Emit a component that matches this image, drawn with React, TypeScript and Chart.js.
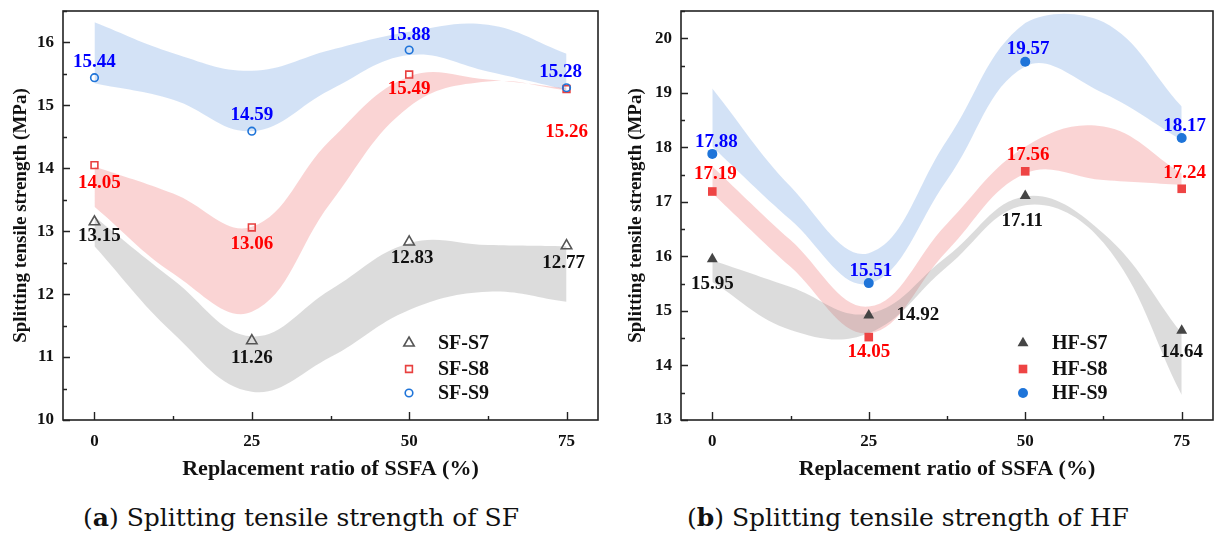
import React, { useEffect, useRef } from "react";
import { Chart, registerables } from "chart.js";

Chart.register(...registerables);

// ---------- data ----------
const X_CATEGORIES = [0, 25, 50, 75];
const BAND_X = [0, 12.5, 25, 37.5, 50, 62.5, 75];

// (a) SF
const SF_S7 = [13.15, 11.26, 12.83, 12.77];
const SF_S8 = [14.05, 13.06, 15.49, 15.26];
const SF_S9 = [15.44, 14.59, 15.88, 15.28];
const SF_S7_UP = [13.23, 12.23, 11.33, 12.07, 12.81, 12.78, 12.76];
const SF_S7_LO = [12.76, 11.38, 10.45, 11.0, 11.75, 12.04, 11.88];
const SF_S8_UP = [14.03, 13.6, 13.07, 14.45, 15.46, 15.41, 15.27];
const SF_S8_LO = [13.39, 12.33, 11.72, 13.45, 14.98, 15.38, 15.24];
const SF_S9_UP = [16.32, 15.83, 15.55, 15.88, 16.17, 16.28, 15.82];
const SF_S9_LO = [15.35, 15.09, 14.59, 15.25, 15.8, 15.54, 15.25];

// (b) HF
const HF_S7 = [15.95, 14.92, 17.11, 14.64];
const HF_S8 = [17.19, 14.52, 17.56, 17.24];
const HF_S8_TEXT = ["17.19", "14.05", "17.56", "17.24"];
const HF_S9 = [17.88, 15.51, 19.57, 18.17];
const HF_S7_UP = [15.93, 15.44, 14.95, 16.0, 17.1, 16.42, 14.59];
const HF_S7_LO = [15.53, 14.65, 14.59, 15.81, 16.94, 16.25, 13.46];
const HF_S8_UP = [17.65, 16.3, 15.08, 16.6, 18.01, 18.38, 17.52];
const HF_S8_LO = [17.16, 15.81, 14.59, 16.1, 17.52, 17.4, 17.31];
const HF_S9_UP = [19.08, 17.28, 16.06, 18.13, 20.28, 20.3, 18.75];
const HF_S9_LO = [18.01, 16.67, 15.5, 17.4, 19.48, 18.99, 18.13];

const SF_Y_TICKS = [10, 11, 12, 13, 14, 15, 16];
const HF_Y_TICKS = [13, 14, 15, 16, 17, 18, 19, 20];

// ---------- styling ----------
const SERIF = '"Liberation Serif", "Times New Roman", serif';
const FRAME = "#222222";

// label offsets (px) of text centre relative to the marker
const OFF_SF_S7 = [[5, 14], [0, 17], [3, 16], [-3, 17]];
const OFF_SF_S8 = [[5, 18], [0, 17], [0, 15], [0, 43]];
const OFF_SF_S9 = [[0, -16], [0, -16], [0, -15], [-6, -16]];
const OFF_HF_S7 = [[0, 25], [49, 0], [-3, 25], [0, 22]];
const OFF_HF_S8 = [[3, -17], [0, 15], [3, -16], [3, -16]];
const OFF_HF_S9 = [[4, -12], [2, -12], [3, -13], [3, -12]];

type Series = {
  name: string;
  values: number[];
  texts: string[];
  up: number[];
  lo: number[];
  color: string;
  textColor: string;
  band: string;
  style: "triangle" | "rect" | "circle";
  radius: number;
  filled: boolean;
  offsets: number[][];
};

type Panel = {
  yMin: number;
  yMax: number;
  yTicks: number[];
  yAxisWidth: number;
  yTitlePad: number;
  padRight: number;
  legendX: number;
  series: Series[];
};

const fmt = (a: number[]) => a.map((v) => v.toFixed(2));

const PANEL_A: Panel = {
  yMin: 10,
  yMax: 16.5,
  yTicks: SF_Y_TICKS,
  yAxisWidth: 63,
  yTitlePad: 10,
  padRight: 14,
  legendX: 346,
  series: [
    { name: "SF-S7", values: SF_S7, texts: fmt(SF_S7), up: SF_S7_UP, lo: SF_S7_LO, color: "#555555", textColor: "#111111", band: "rgba(140,140,140,0.30)", style: "triangle", radius: 6, filled: false, offsets: OFF_SF_S7 },
    { name: "SF-S8", values: SF_S8, texts: fmt(SF_S8), up: SF_S8_UP, lo: SF_S8_LO, color: "#E8403F", textColor: "#FF0000", band: "rgba(238,100,100,0.28)", style: "rect", radius: 4.8, filled: false, offsets: OFF_SF_S8 },
    { name: "SF-S9", values: SF_S9, texts: fmt(SF_S9), up: SF_S9_UP, lo: SF_S9_LO, color: "#1E74D9", textColor: "#0000FF", band: "rgba(110,160,225,0.30)", style: "circle", radius: 3.8, filled: false, offsets: OFF_SF_S9 },
  ],
};

const PANEL_B: Panel = {
  yMin: 13,
  yMax: 20.5,
  yTicks: HF_Y_TICKS,
  yAxisWidth: 69,
  yTitlePad: 12.5,
  padRight: 11,
  legendX: 342,
  series: [
    { name: "HF-S7", values: HF_S7, texts: fmt(HF_S7), up: HF_S7_UP, lo: HF_S7_LO, color: "#454545", textColor: "#111111", band: "rgba(140,140,140,0.30)", style: "triangle", radius: 6.3, filled: true, offsets: OFF_HF_S7 },
    { name: "HF-S8", values: HF_S8, texts: HF_S8_TEXT, up: HF_S8_UP, lo: HF_S8_LO, color: "#EE4444", textColor: "#FF0000", band: "rgba(238,100,100,0.28)", style: "rect", radius: 6.1, filled: true, offsets: OFF_HF_S8 },
    { name: "HF-S9", values: HF_S9, texts: fmt(HF_S9), up: HF_S9_UP, lo: HF_S9_LO, color: "#1E74D9", textColor: "#0000FF", band: "rgba(110,160,225,0.30)", style: "circle", radius: 5, filled: true, offsets: OFF_HF_S9 },
  ],
};

function drawMarker(ctx: CanvasRenderingContext2D, s: Series, x: number, y: number) {
  const r = s.radius;
  ctx.save();
  ctx.beginPath();
  if (s.style === "circle") {
    ctx.arc(x, y, r, 0, Math.PI * 2);
  } else if (s.style === "rect") {
    const h = r * Math.SQRT1_2;
    ctx.rect(x - h, y - h, 2 * h, 2 * h);
  } else {
    let a = 0;
    ctx.moveTo(x + Math.sin(a) * r, y - Math.cos(a) * r);
    a += (2 * Math.PI) / 3;
    ctx.lineTo(x + Math.sin(a) * r, y - Math.cos(a) * r);
    a += (2 * Math.PI) / 3;
    ctx.lineTo(x + Math.sin(a) * r, y - Math.cos(a) * r);
    ctx.closePath();
  }
  if (s.filled) {
    ctx.fillStyle = s.color;
    ctx.fill();
  } else {
    ctx.lineWidth = 1.6;
    ctx.strokeStyle = s.color;
    ctx.stroke();
  }
  ctx.restore();
}

function makePlugin(panel: Panel) {
  return {
    id: "decor",
    afterDatasetsDraw(chart: any) {
      const ctx: CanvasRenderingContext2D = chart.ctx;
      const xs = chart.scales.x;
      const ys = chart.scales.y;
      panel.series.forEach((s) => {
        s.values.forEach((v, i) => {
          drawMarker(ctx, s, xs.getPixelForValue(X_CATEGORIES[i]), ys.getPixelForValue(v));
        });
      });
      ctx.save();
      ctx.font = `bold 19px ${SERIF}`;
      ctx.textAlign = "center";
      ctx.textBaseline = "middle";
      panel.series.forEach((s) => {
        ctx.fillStyle = s.textColor;
        s.values.forEach((v, i) => {
          const px = xs.getPixelForValue(X_CATEGORIES[i]);
          const py = ys.getPixelForValue(v);
          const [dx, dy] = s.offsets[i];
          ctx.fillText(s.texts[i], px + dx, py + dy);
        });
      });
      ctx.restore();
    },
    afterDraw(chart: any) {
      const ctx: CanvasRenderingContext2D = chart.ctx;
      const { left, right, top, bottom } = chart.chartArea;
      const xs = chart.scales.x;
      const ys = chart.scales.y;
      ctx.save();
      ctx.strokeStyle = FRAME;
      ctx.lineWidth = 1.6;
      ctx.strokeRect(left, top, right - left, bottom - top);
      ctx.lineWidth = 1.4;
      ctx.beginPath();
      for (let v = panel.yMin; v <= panel.yMax + 1e-9; v += 0.5) {
        const py = Math.round(ys.getPixelForValue(v)) + 0.5;
        const major = Math.abs(v - Math.round(v)) < 1e-9;
        const len = major ? 7 : 4;
        ctx.moveTo(left, py);
        ctx.lineTo(left + len, py);
      }
      for (let v = 0; v <= 75 + 1e-9; v += 12.5) {
        const px = Math.round(xs.getPixelForValue(v)) + 0.5;
        const major = v % 25 === 0;
        const len = major ? 8 : 4;
        ctx.moveTo(px, bottom);
        ctx.lineTo(px, bottom - len);
      }
      ctx.stroke();
      ctx.font = `bold 20px ${SERIF}`;
      ctx.textAlign = "left";
      ctx.textBaseline = "middle";
      const rows = [-77, -51, -27];
      panel.series.forEach((s, i) => {
        const mx = left + panel.legendX;
        const my = bottom + rows[i];
        drawMarker(ctx, s, mx, my);
        ctx.fillStyle = "#111111";
        ctx.fillText(s.name, mx + 29, my + 1);
      });
      ctx.restore();
    },
  };
}

function ChartPanel({ panel }: { panel: Panel }) {
  const ref = useRef<HTMLCanvasElement | null>(null);
  useEffect(() => {
    if (!ref.current) return;
    const datasets: any[] = [];
    panel.series.forEach((s) => {
      datasets.push({
        label: s.name + " up",
        data: BAND_X.map((x, i) => ({ x, y: s.up[i] })),
        borderWidth: 0,
        borderColor: "rgba(0,0,0,0)",
        pointRadius: 0,
        tension: 0.4,
        fill: "+1",
        backgroundColor: s.band,
      });
      datasets.push({
        label: s.name + " lo",
        data: BAND_X.map((x, i) => ({ x, y: s.lo[i] })),
        borderWidth: 0,
        borderColor: "rgba(0,0,0,0)",
        pointRadius: 0,
        tension: 0.4,
        fill: false,
      });
    });
    const chart = new Chart(ref.current, {
      type: "line",
      data: { datasets },
      options: {
        animation: false,
        responsive: false,
        events: [],
        layout: { padding: { top: 11, right: panel.padRight, left: 0, bottom: 0 } },
        plugins: { legend: { display: false }, tooltip: { enabled: false } },
        scales: {
          x: {
            type: "linear",
            min: -5,
            max: 80,
            grid: { display: false, drawTicks: false },
            border: { display: false },
            afterBuildTicks: (s: any) => {
              s.ticks = X_CATEGORIES.map((v) => ({ value: v }));
            },
            afterFit: (s: any) => {
              s.height = 60;
              s.paddingLeft = 0;
              s.paddingRight = 0;
            },
            ticks: {
              font: { family: SERIF, size: 17, weight: "bold" },
              color: "#111111",
              padding: 11,
              maxRotation: 0,
              callback: (v: any) => String(v),
            },
            title: {
              display: true,
              text: "Replacement ratio of SSFA (%)",
              font: { family: SERIF, size: 22, weight: "bold", lineHeight: 1 },
              color: "#111111",
              padding: { top: 0, bottom: 0 },
            },
          },
          y: {
            type: "linear",
            min: panel.yMin,
            max: panel.yMax,
            grid: { display: false, drawTicks: false },
            border: { display: false },
            afterBuildTicks: (s: any) => {
              s.ticks = panel.yTicks.map((v) => ({ value: v }));
            },
            afterFit: (s: any) => {
              s.width = panel.yAxisWidth;
              s.paddingTop = 0;
              s.paddingBottom = 0;
            },
            ticks: {
              font: { family: SERIF, size: 17, weight: "bold" },
              color: "#111111",
              padding: 9,
            },
            title: {
              display: true,
              text: "Splitting tensile strength (MPa)",
              font: { family: SERIF, size: 19, weight: "bold" },
              color: "#111111",
              padding: { top: panel.yTitlePad, bottom: 0 },
            },
          },
        },
      } as any,
      plugins: [makePlugin(panel)],
    });
    return () => chart.destroy();
  }, [panel]);
  return <canvas ref={ref} width={612} height={480} style={{ display: "block", width: 612, height: 480 }} />;
}

const CAPTION_FONT = '"DejaVu Serif", serif';

export default function App() {
  useEffect(() => {
    document.body.style.margin = "0";
    document.body.style.background = "#ffffff";
  }, []);
  const cap: React.CSSProperties = {
    position: "absolute",
    top: 503,
    textAlign: "center",
    fontFamily: CAPTION_FONT,
    fontSize: 25,
    color: "#111",
    whiteSpace: "nowrap",
    lineHeight: "30px",
  };
  return (
    <div style={{ position: "relative", width: 1224, height: 542, background: "#fff", overflow: "hidden" }}>
      <div style={{ position: "absolute", left: 0, top: 0 }}>
        <ChartPanel panel={PANEL_A} />
      </div>
      <div style={{ position: "absolute", left: 612, top: 0 }}>
        <ChartPanel panel={PANEL_B} />
      </div>
      <div style={{ ...cap, left: 0, width: 602 }}>
        (<b>a</b>) Splitting tensile strength of SF
      </div>
      <div style={{ ...cap, left: 612, width: 592 }}>
        (<b>b</b>) Splitting tensile strength of HF
      </div>
    </div>
  );
}
